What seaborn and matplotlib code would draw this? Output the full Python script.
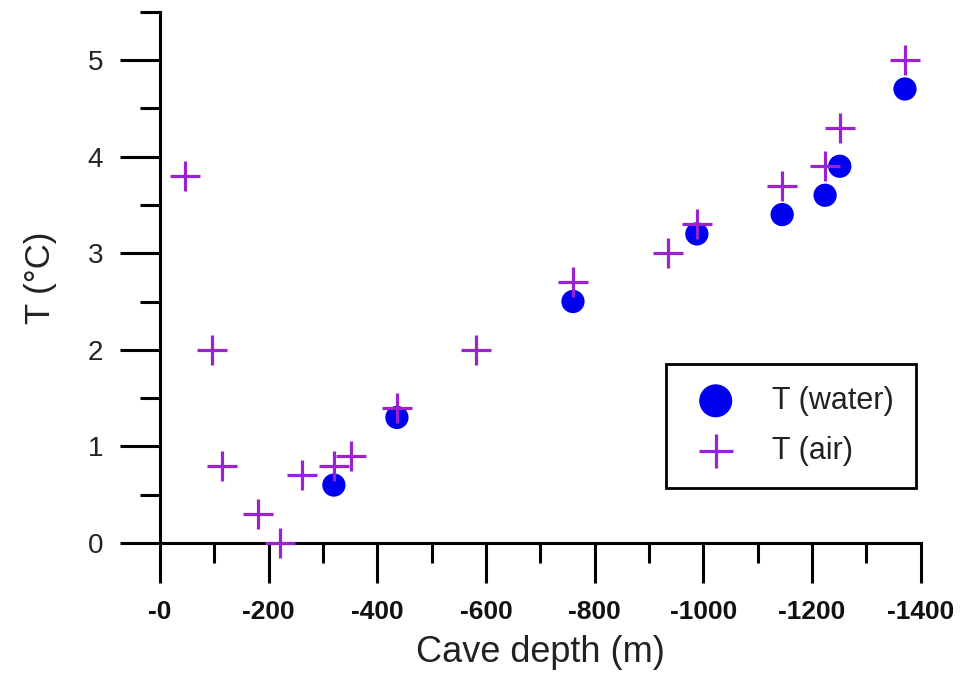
import matplotlib
matplotlib.use("Agg")
import matplotlib.pyplot as plt
import seaborn as sns
import pandas as pd
from matplotlib.ticker import MultipleLocator

# ---- data ----
water_depth = [320, 436, 760, 988, 1145, 1224, 1251, 1371]
water_temp = [0.6, 1.3, 2.5, 3.2, 3.4, 3.6, 3.9, 4.7]

air_depth = [46, 96, 114, 180, 221, 261, 320, 351, 436, 581, 760, 935, 988, 1145, 1224, 1251, 1371]
air_temp = [3.8, 2.0, 0.8, 0.3, 0.0, 0.7, 0.8, 0.9, 1.4, 2.0, 2.7, 3.0, 3.3, 3.7, 3.9, 4.3, 5.0]

xtick_values = [0, 200, 400, 600, 800, 1000, 1200, 1400]
xtick_labels = ["-0", "-200", "-400", "-600", "-800", "-1000", "-1200", "-1400"]
ytick_values = [0, 1, 2, 3, 4, 5]
ytick_labels = ["0", "1", "2", "3", "4", "5"]

water_label = "T (water)"
air_label = "T (air)"
x_title = "Cave depth (m)"
y_title = "T (°C)"

water_df = pd.DataFrame({"depth": water_depth, "temp": water_temp})
air_df = pd.DataFrame({"depth": air_depth, "temp": air_temp})

sns.set_style("ticks")
plt.rcParams["font.family"] = ["Liberation Sans", "DejaVu Sans"]

fig = plt.figure(figsize=(9.74, 6.76), dpi=100)
ax = fig.add_axes([0.1643, 0.1967, 0.781, 0.786])

sns.scatterplot(data=water_df, x="depth", y="temp", ax=ax, marker="o",
                s=280, color="#0000F0", edgecolor="none", label=water_label,
                zorder=3)
sns.scatterplot(data=air_df, x="depth", y="temp", ax=ax, marker="+",
                s=470, color="#9A22D0", linewidth=2.3, label=air_label,
                zorder=4)
for coll in ax.collections:
    coll.set_clip_on(False)

ax.set_xlim(0, 1400)
ax.set_ylim(0, 5.5)
ax.set_xticks(xtick_values, xtick_labels)
ax.set_yticks(ytick_values, ytick_labels)
ax.xaxis.set_minor_locator(MultipleLocator(100))
ax.yaxis.set_minor_locator(MultipleLocator(0.5))

for side in ["top", "right"]:
    ax.spines[side].set_visible(False)
for side in ["left", "bottom"]:
    ax.spines[side].set_linewidth(2.2)
    ax.spines[side].set_color("black")

ax.tick_params(which="major", direction="out", length=28.8, width=2.2, color="black")
ax.tick_params(which="minor", direction="out", length=14.4, width=2.2, color="black")
ax.tick_params(axis="x", which="major", labelsize=19, pad=12)
ax.tick_params(axis="y", which="major", labelsize=20, pad=12)
for lab in ax.get_xticklabels():
    lab.set_fontweight("bold")
    lab.set_color("#111111")
for lab in ax.get_yticklabels():
    lab.set_color("#222222")

ax.set_xlabel(x_title, fontsize=26, labelpad=8, color="#222222")
ax.set_ylabel(y_title, fontsize=25, labelpad=22, color="#222222")

leg = ax.legend(loc="lower right", bbox_to_anchor=(916 / 974, 1 - 488 / 676),
                bbox_transform=fig.transFigure, borderaxespad=0,
                fontsize=22, frameon=True, fancybox=False, framealpha=1,
                edgecolor="black", borderpad=0.72, labelspacing=0.66,
                handletextpad=0.95, handlelength=1.8, scatterpoints=1)
leg.get_frame().set_linewidth(2.0)
leg.legend_handles[0].set_sizes([565])
leg.legend_handles[1].set_sizes([565])
for t in leg.get_texts():
    t.set_color("#222222")

fig.savefig("out.png", dpi=100)
